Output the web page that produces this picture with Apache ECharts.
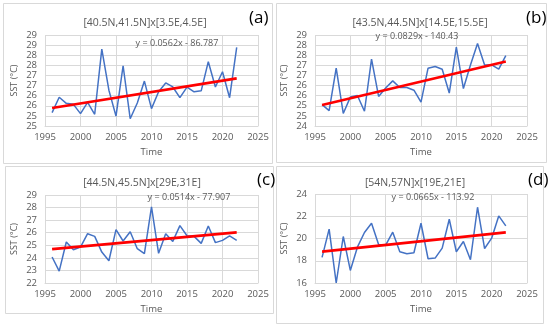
<!DOCTYPE html>
<html><head><meta charset="utf-8">
<script src="https://cdn.jsdelivr.net/npm/echarts@6/dist/echarts.min.js"></script>
<style>html,body{margin:0;padding:0;background:#fff}#c{width:550px;height:328px}</style>
</head><body><div id="c"></div>
<script>
const years = [1996,1997,1998,1999,2000,2001,2002,2003,2004,2005,2006,2007,2008,2009,2010,2011,2012,2013,2014,2015,2016,2017,2018,2019,2020,2021,2022];
const sstA = [25.16,25.92,25.62,25.57,25.11,25.67,25.08,28.30,26.27,24.99,27.48,24.86,25.64,26.72,25.36,26.19,26.63,26.43,25.90,26.42,26.19,26.24,27.68,26.43,27.18,25.90,28.39];
const sstB = [25.06,24.76,26.86,24.62,25.43,25.51,24.73,27.31,25.46,25.88,26.23,25.90,25.90,25.77,25.18,26.86,26.94,26.81,25.63,27.90,25.85,27.02,28.08,27.02,27.02,26.81,27.48];
const sstC = [24.07,22.95,25.26,24.65,24.86,25.92,25.71,24.46,23.77,26.24,25.34,26.08,24.73,24.33,28.05,24.36,25.92,25.31,26.56,25.76,25.71,25.15,26.53,25.21,25.39,25.74,25.39];
const sstD = [18.30,20.84,16.00,20.18,17.13,19.22,20.54,21.37,19.46,19.40,20.57,18.81,18.63,18.72,21.37,18.18,18.24,19.13,21.73,18.81,19.73,18.09,22.81,19.10,20.03,22.03,21.13];
const trendYears = [1996, 2022];
const trendA = [25.39, 26.85];
const trendB = [25.04, 27.19];
const trendC = [24.69, 26.02];
const trendD = [18.81, 20.54];
const titles = ['[40.5N,41.5N]x[3.5E,4.5E]','[43.5N,44.5N]x[14.5E,15.5E]','[44.5N,45.5N]x[29E,31E]','[54N,57N]x[19E,21E]'];
const panelTags = ['(a)','(b)','(c)','(d)'];
const equations = ['y = 0.0562x - 86.787','y = 0.0829x - 140.43','y = 0.0514x - 77.907','y = 0.0665x - 113.92'];
const yMin = [24.5, 24, 22, 16];
const yMax = [29, 28.5, 29, 24];
const yStep = [0.5, 0.5, 1, 2];
const xMin = 1995, xMax = 2025, xStep = 5;

const FONT = 'Open Sans';
const TXT = '#595959';
const grids = [
  {left:45, top:35, width:213, height:91},
  {left:315, top:35, width:212, height:91},
  {left:45, top:195, width:213, height:88},
  {left:315, top:194, width:212, height:89}
];
const titlePos = [[140,13],[415,13],[137,173],[410,173]];
const tagPos = [[249,10],[526,10],[257,172],[528,172]];
const eqPos = [[177,43],[417,36],[189,197],[433,197]];
const boxes = [[3,3,269,160],[276,3,270,159],[5,166,268,147],[276,166,267,157]];
const series = [sstA, sstB, sstC, sstD];
const trends = [trendA, trendB, trendC, trendD];

const option = {
  animation:false,
  backgroundColor:'#fff',
  textStyle:{fontFamily:FONT},
  grid: grids,
  title: titles.map((t,i)=>({text:t, left:titlePos[i][0], top:titlePos[i][1], textAlign:'center',
     textStyle:{fontFamily:FONT, fontSize:10.5, fontWeight:'normal', color:TXT}})),
  xAxis: grids.map((g,i)=>({type:'value', gridIndex:i, min:xMin, max:xMax, interval:xStep,
     name:'Time', nameLocation:'middle', nameGap:21,
     nameTextStyle:{fontFamily:FONT, fontSize:9.5, color:TXT},
     axisLine:{show:true, lineStyle:{color:'#D9D9D9'}}, axisTick:{show:false},
     axisLabel:{fontFamily:FONT, fontSize:9.5, color:TXT, margin:6, formatter:v=>String(v)},
     splitLine:{show:true, lineStyle:{color:'#D9D9D9', width:1}}})),
  yAxis: grids.map((g,i)=>({type:'value', gridIndex:i, min:yMin[i], max:yMax[i], interval:yStep[i],
     name:'SST (°C)', nameLocation:'middle', nameGap:26, nameRotate:90,
     nameTextStyle:{fontFamily:FONT, fontSize:9, color:TXT},
     axisLine:{show:false}, axisTick:{show:false},
     axisLabel:{fontFamily:FONT, fontSize:9.5, color:TXT, margin:8, formatter:v=>String(Math.round(v))},
     splitLine:{show:true, lineStyle:{color:'#D9D9D9', width:1}}})),
  series: [].concat(
    series.map((s,i)=>({type:'line', xAxisIndex:i, yAxisIndex:i, showSymbol:false, symbol:'none', z:2,
       lineStyle:{color:'#4472C4', width:1.5}, data: years.map((y,k)=>[y, s[k]])})),
    trends.map((t,i)=>({type:'line', xAxisIndex:i, yAxisIndex:i, showSymbol:false, symbol:'none', z:3,
       lineStyle:{color:'#FF0000', width:2.75}, data: trendYears.map((y,k)=>[y, t[k]])}))
  ),
  graphic: [].concat(
    boxes.map(b=>({type:'rect', shape:{x:b[0]+0.5, y:b[1]+0.5, width:b[2], height:b[3]}, z:-1,
       style:{fill:'none', stroke:'#D9D9D9', lineWidth:1}})),
    panelTags.map((t,i)=>({type:'text', left:tagPos[i][0], top:tagPos[i][1], z:10,
       style:{text:t, font:'17px "'+FONT+'"', fill:'#000'}})),
    equations.map((t,i)=>({type:'text', x:eqPos[i][0], y:eqPos[i][1], z:10,
       style:{text:t, font:'9px "'+FONT+'"', fill:TXT, textAlign:'center', textVerticalAlign:'middle'}}))
  )
};
const chart = echarts.init(document.getElementById('c'), null, {renderer:'canvas'});
chart.setOption(option);
</script>
</body></html>
